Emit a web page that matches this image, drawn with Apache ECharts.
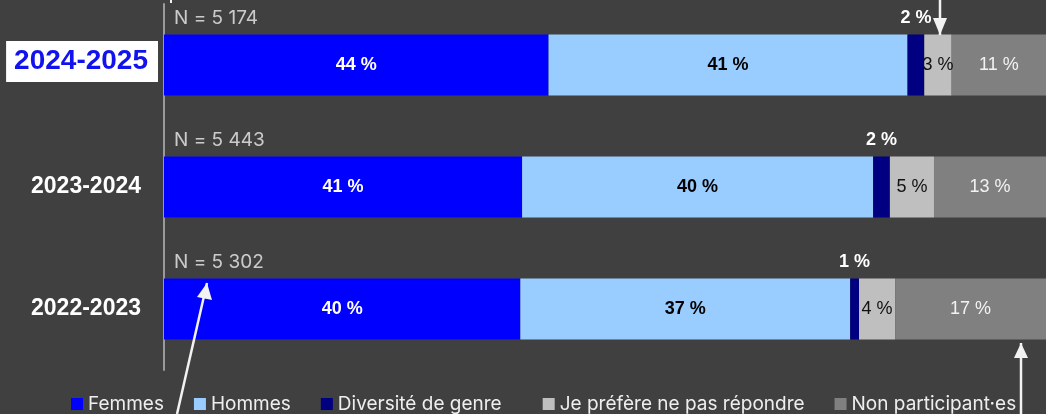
<!DOCTYPE html>
<html>
<head>
<meta charset="utf-8">
<style>
  html, body { margin: 0; padding: 0; background: #404040; }
  #chart { width: 1046px; height: 414px; }
</style>
<script src="https://cdn.jsdelivr.net/npm/echarts@6/dist/echarts.min.js"></script>
</head>
<body>
<div id="chart"></div>
<script>
// ---- Data ----
const categories = ['2024-2025', '2023-2024', '2022-2023'];
const sampleSizes = ['N = 5 174', 'N = 5 443', 'N = 5 302'];
const seriesNames = ['Femmes', 'Hommes', 'Diversité de genre', 'Je préfère ne pas répondre', 'Non participant·es'];
const femmes = [43.6, 40.6, 40.4];
const hommes = [40.7, 39.8, 37.4];
const diversite = [1.9, 1.9, 1.0];
const nePasRepondre = [3.1, 5.0, 4.1];
const nonParticipants = [10.7, 12.7, 17.1];

const colors = ['#0000ff', '#99ccff', '#000080', '#bfbfbf', '#808080'];
const pct = p => Math.round(p.value) + ' %';
const numFont = 'Liberation Sans, Arial, sans-serif';
const uiFont = 'Inter, Lato, sans-serif';

function barSeries(name, data, color, label) {
  return {
    name: name, type: 'bar', stack: 'total', data: data, barWidth: '50%',
    itemStyle: { color: color },
    label: Object.assign({ show: true, formatter: pct, fontSize: 18, fontFamily: numFont }, label),
    emphasis: { disabled: true }
  };
}

const chart = echarts.init(document.getElementById('chart'), null, { renderer: 'canvas' });

const arrowColor = '#f2f2f2';
function arrow(x1, y1, x2, y2, hx1, hy1, hx2, hy2) {
  return {
    type: 'group', silent: true, z: 100,
    children: [
      { type: 'line', z: 100, shape: { x1: x1, y1: y1, x2: x2, y2: y2 }, style: { stroke: arrowColor, lineWidth: 2.5 } },
      { type: 'polygon', z: 100, shape: { points: [[x2, y2], [hx1, hy1], [hx2, hy2]] }, style: { fill: arrowColor } }
    ]
  };
}

chart.setOption({
  backgroundColor: '#404040',
  animation: false,
  grid: { left: 164, right: 0, top: 4, bottom: 44 },
  xAxis: { type: 'value', min: 0, max: 100, show: false },
  yAxis: {
    type: 'category', data: categories, inverse: true,
    axisLine: { show: true, lineStyle: { color: '#9a9a9a', width: 2 } },
    axisTick: { show: false },
    axisLabel: {
      margin: 6,
      padding: [0, 0, 7, 0],
      formatter: (v, i) => i === 0 ? '{hl|' + v + '}' : '{n|' + v + '}',
      rich: {
        hl: { color: '#1212ee', fontSize: 28, fontWeight: 'bold', fontFamily: numFont,
              backgroundColor: '#ffffff', padding: [6, 10, 7, 8], lineHeight: 30 },
        n: { color: '#ffffff', fontSize: 23, fontWeight: 'bold', fontFamily: numFont,
             padding: [7, 17, 0, 0], lineHeight: 26 }
      }
    }
  },
  legend: {
    data: seriesNames,
    left: 71, top: 394, padding: 0,
    itemWidth: 12, itemHeight: 12, itemGap: 30,
    icon: 'rect',
    formatter: name => name === seriesNames[2] ? '{w|' + name + '}' : name,
    textStyle: {
      color: '#eeeeee', fontSize: 19, fontFamily: uiFont, lineHeight: 20,
      rich: { w: { color: '#eeeeee', fontSize: 19, fontFamily: uiFont, lineHeight: 20, padding: [0, 11, 0, 0] } }
    }
  },
  series: [
    barSeries(seriesNames[0], femmes, colors[0], { position: 'inside', color: '#ffffff', fontWeight: 'bold' }),
    barSeries(seriesNames[1], hommes, colors[1], { position: 'inside', color: '#000000', fontWeight: 'bold' }),
    barSeries(seriesNames[2], diversite, colors[2], { position: 'top', distance: 7, color: '#ffffff', fontWeight: 'bold' }),
    barSeries(seriesNames[3], nePasRepondre, colors[3], { position: 'inside', color: '#111111' }),
    barSeries(seriesNames[4], nonParticipants, colors[4], { position: 'inside', color: '#f2f2f2' }),
    {
      name: 'N', type: 'scatter', symbolSize: 0, silent: true,
      data: categories.map(c => [0, c]),
      label: {
        show: true, position: 'right', distance: 0, offset: [10, -47],
        formatter: p => sampleSizes[p.dataIndex],
        color: '#eeeeee', fontSize: 19, fontFamily: uiFont
      }
    }
  ],
  graphic: [
    arrow(940, 0, 940, 35, 933, 18, 947, 18),
    arrow(177, 414, 207, 283, 197, 297, 212, 300),
    arrow(1021, 414, 1021, 343, 1014, 358, 1028, 358),
    { type: 'line', silent: true, z: 100, shape: { x1: 171, y1: 0, x2: 171, y2: 3 }, style: { stroke: arrowColor, lineWidth: 2 } }
  ]
});
</script>
</body>
</html>
